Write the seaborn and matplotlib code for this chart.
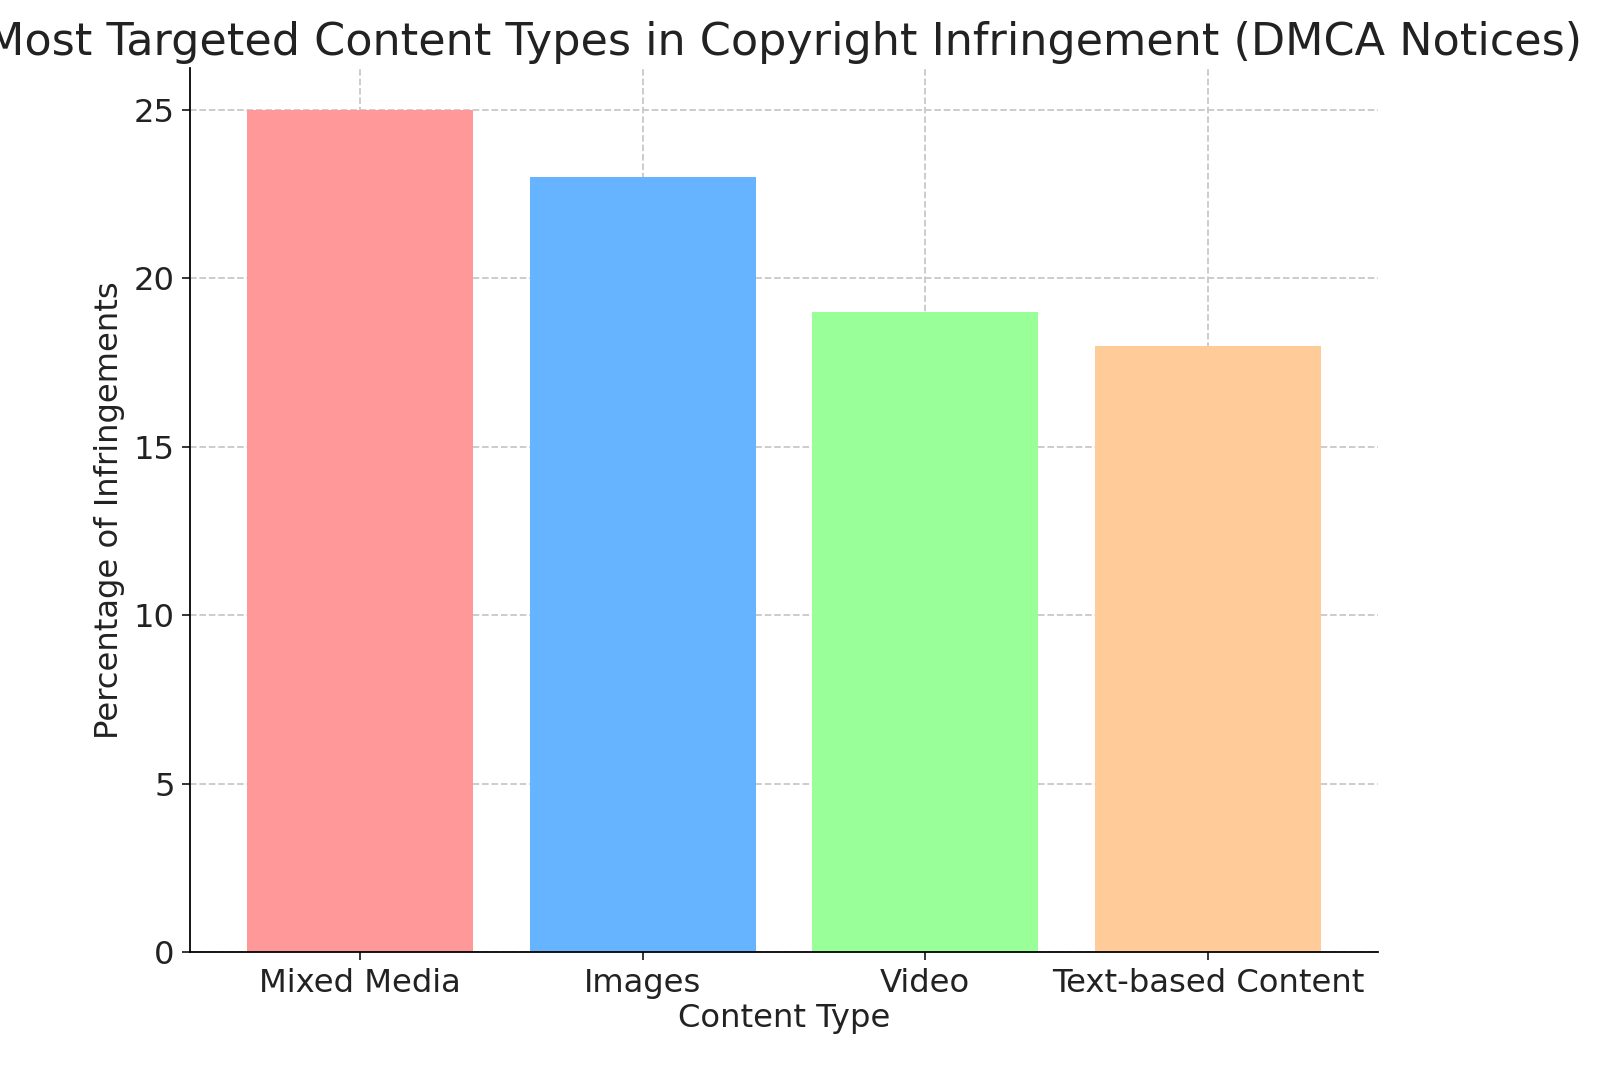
import matplotlib
matplotlib.use("Agg")
import matplotlib.pyplot as plt
import seaborn as sns
import pandas as pd

categories = ["Mixed Media", "Images", "Video", "Text-based Content"]
values = [25, 23, 19, 18]
colors = ["#ff9999", "#66b3ff", "#99ff99", "#ffcc99"]

df = pd.DataFrame({"Content Type": categories, "Percentage": values})

fig = plt.figure(figsize=(10, 6.73125), dpi=160)
ax = fig.add_axes([0.119, 0.116, 0.742, 0.821])
sns.barplot(data=df, x="Content Type", y="Percentage", hue="Content Type",
            palette=colors, width=0.8, legend=False, ax=ax, saturation=1)
ax.set_axisbelow(True)
ax.grid(True, linestyle="--", color="#c8c8c8", linewidth=0.8)
for s in ["top", "right"]:
    ax.spines[s].set_visible(False)
ax.set_ylim(0, 26.25)
ax.set_xlim(-0.6, 3.6)
ax.set_yticks([0, 5, 10, 15, 20, 25])
ax.tick_params(labelsize=14.5, colors="#222222")
ax.set_xlabel("Content Type", fontsize=14.5, color="#222222", labelpad=2)
ax.set_ylabel("Percentage of Infringements", fontsize=14.5, color="#222222")
ax.set_title("Most Targeted Content Types in Copyright Infringement (DMCA Notices)",
             fontsize=20, color="#222222")
fig.savefig("out.png", dpi=160)
